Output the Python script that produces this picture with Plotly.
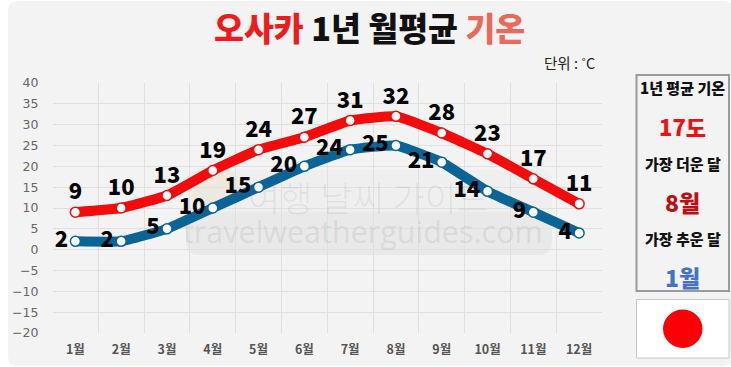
import plotly.graph_objects as go

W, H = 731, 367
months = ["1월", "2월", "3월", "4월", "5월", "6월", "7월", "8월", "9월", "10월", "11월", "12월"]
high = [9, 10, 13, 19, 24, 27, 31, 32, 28, 23, 17, 11]
low = [2, 2, 5, 10, 15, 20, 24, 25, 21, 14, 9, 4]
y_ticks = [40, 35, 30, 25, 20, 15, 10, 5, 0, -5, -10, -15, -20]
title_parts = [("오사카", "#ee1c1c"), (" 1년 월평균 ", "#111111"), ("기온", "#e96a58")]
side_texts = [("1년 평균 기온", 87, 15, "#111111"), ("17도", 126, 22, "#ee1111"),
              ("가장 더운 달", 163, 15, "#111111"), ("8월", 202, 23, "#c00f12"),
              ("가장 추운 달", 238, 15, "#111111"), ("1월", 277, 23, "#4472c4")]

KR = "Noto Sans CJK KR"
px = lambda x: x / W
py = lambda y: 1 - y / H


def rect(x0, y0, x1, y1, **kw):
    return dict(type="rect", xref="paper", yref="paper", x0=px(x0), x1=px(x1), y0=py(y0), y1=py(y1), **kw)


def rrect(x0, y0, x1, y1, r, **kw):
    a, b, c, d = px(x0), px(x1), py(y0), py(y1)
    rx, ry = r / W, r / H
    path = (f"M{a+rx},{c} L{b-rx},{c} Q{b},{c} {b},{c-ry} L{b},{d+ry} Q{b},{d} {b-rx},{d} "
            f"L{a+rx},{d} Q{a},{d} {a},{d+ry} L{a},{c-ry} Q{a},{c} {a+rx},{c} Z")
    return dict(type="path", xref="paper", yref="paper", path=path, **kw)


fig = go.Figure()
line_spec = [(high, "#f40b0b", "top center"), (low, "#0b6496", "middle left")]
for vals, col, pos in line_spec:
    fig.add_trace(go.Scatter(
        x=months, y=vals, mode="lines+markers+text", text=[str(v) for v in vals],
        textposition=pos, cliponaxis=False,
        textfont=dict(family=KR, size=22, color="#050505", weight=900),
        line=dict(color=col, width=10, shape="spline", smoothing=0.35),
        marker=dict(size=10, color="white", line=dict(color=col, width=1.5)),
        hoverinfo="skip", showlegend=False))

shapes = [
    rrect(8, 1, 733, 366, 10, fillcolor="#f3f3f3", line=dict(width=0), layer="below"),
    rrect(186, 170, 552, 255, 14, fillcolor="#efefef", line=dict(width=0), layer="below"),
    rrect(186, 212, 552, 255, 14, fillcolor="#e9e9e9", line=dict(width=0), layer="below"),
    dict(type="circle", xref="paper", yref="paper", x0=px(190), x1=px(240), y0=py(210), y1=py(165),
         fillcolor="rgba(236,228,205,0.5)", line=dict(width=0), layer="below"),
    rect(636.5, 75, 729, 291, line=dict(color="#9a9a9a", width=2), fillcolor="rgba(0,0,0,0)"),
    rect(636.5, 299.5, 729, 358, line=dict(color="#c8c8c8", width=1), fillcolor="white"),
    dict(type="circle", xref="paper", yref="paper", x0=px(663), x1=px(702.5), y0=py(348), y1=py(309.5),
         fillcolor="#fb0007", line=dict(width=0)),
]

ann = []
ann.append(dict(x=px(369.5), y=py(27), xref="paper", yref="paper", showarrow=False, xanchor="center", yanchor="middle",
                text="".join(f'<span style="color:{c}">{t}</span>' for t, c in title_parts),
                font=dict(family=KR, size=32.5, weight=900)))
ann.append(dict(x=px(597), y=py(62), xref="paper", yref="paper", showarrow=False, xanchor="right", yanchor="middle",
                text="단위 : ˚C", font=dict(family=KR, size=14.5, color="#222222")))
for t, y, s, c in side_texts:
    ann.append(dict(x=px(682.5), y=py(y), xref="paper", yref="paper", showarrow=False, xanchor="center",
                    yanchor="middle", text=t, font=dict(family=KR, size=s, color=c, weight=900)))
ann.append(dict(x=px(368), y=py(196), xref="paper", yref="paper", showarrow=False, text="여행 날씨 가이드",
                font=dict(family=KR, size=35, color="rgba(120,120,120,0.12)", weight=300)))
ann.append(dict(x=px(363), y=py(231), xref="paper", yref="paper", showarrow=False, text="travelweatherguides.com",
                font=dict(family="Open Sans", size=30.5, color="rgba(120,120,120,0.14)")))

fig.update_layout(
    width=W, height=H, margin=dict(l=0, r=0, t=0, b=0, pad=0, autoexpand=False), autosize=False,
    paper_bgcolor="white", plot_bgcolor="rgba(0,0,0,0)", shapes=shapes, annotations=ann,
    xaxis=dict(domain=[px(52.5), px(602)], type="category", tickson="boundaries", range=[-0.5, 11.5],
               showgrid=True, gridcolor="#e0e0e0", gridwidth=1, zeroline=False, ticks="", showline=False,
               ticklabelstandoff=7, tickfont=dict(family=KR, size=12.5, color="#555555", weight=700)),
    yaxis=dict(domain=[py(333), py(83)], range=[-20, 40], tickvals=y_ticks, showgrid=True, gridcolor="#e0e0e0",
               gridwidth=1, zeroline=False, ticks="", showline=False, ticklabelstandoff=13,
               tickfont=dict(family="DejaVu Sans", size=12.5, color="#666666")),
)
fig.write_html("out.html", config=dict(displayModeBar=False),
               post_script="document.body.style.margin='0';document.documentElement.style.overflow='hidden';")
